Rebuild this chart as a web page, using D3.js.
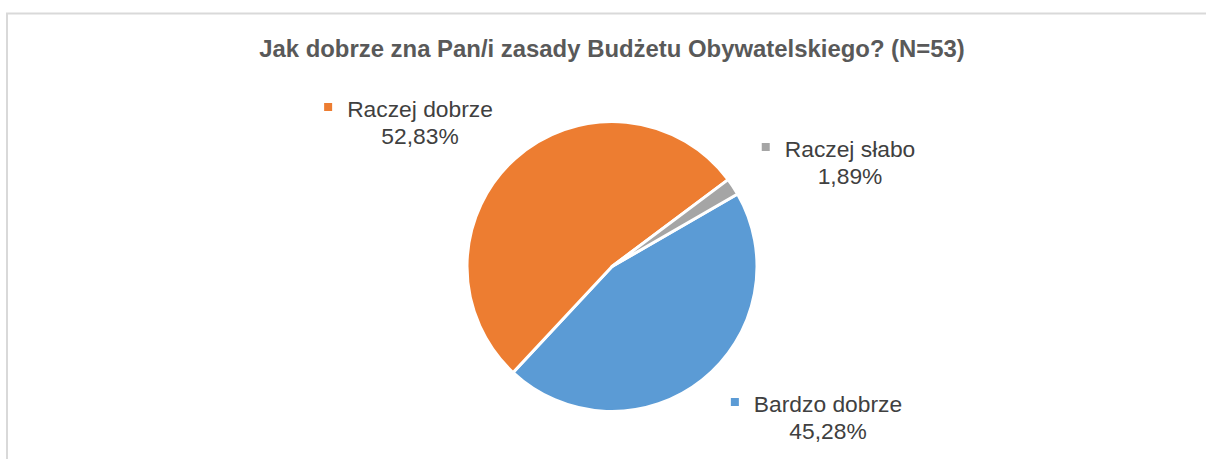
<!DOCTYPE html>
<html>
<head>
<meta charset="utf-8">
<script src="https://cdn.jsdelivr.net/npm/d3@7"></script>
<style>
  body { margin: 0; background: #fff; }
  text { font-family: "Liberation Sans", Arial, sans-serif; }
</style>
</head>
<body>
<svg class="chart"></svg>
<script>
// Data
var title = 'Jak dobrze zna Pan/i zasady Budżetu Obywatelskiego? (N=53)';
var categories = ['Bardzo dobrze', 'Raczej dobrze', 'Raczej słabo'];
var values = [45.28, 52.83, 1.89];
var colors = ['#5B9BD5', '#ED7D31', '#A5A5A5'];

// Global setup
var width = 1206;
var height = 459;
var cx = 612;
var cy = 266.5;
var radius = 145;
var firstSliceAngle = 60 * Math.PI / 180;

// label anchors (text centre, first baseline) relative to pie centre
var labelOffsets = [
  {dx: 216, dy: 145},
  {dx: -192, dy: -150},
  {dx: 238, dy: -110}
];

var svg = d3.select('.chart')
  .attr('width', width)
  .attr('height', height);

// chart frame (runs off the right and bottom edge)
svg.append('rect')
  .attr('x', 7)
  .attr('y', 13.5)
  .attr('width', 1220)
  .attr('height', 480)
  .attr('fill', '#fff')
  .attr('stroke', '#d9d9d9')
  .attr('stroke-width', 2);

svg.append('text')
  .attr('x', cx)
  .attr('y', 57)
  .attr('text-anchor', 'middle')
  .attr('font-size', 23.9)
  .attr('font-weight', 'bold')
  .attr('fill', '#595959')
  .text(title);

var pie = d3.pie()
  .sort(null)
  .startAngle(firstSliceAngle)
  .endAngle(firstSliceAngle + 2 * Math.PI)
  .value(function (d) { return d; });

var arc = d3.arc()
  .innerRadius(0)
  .outerRadius(radius);

var arcs = pie(values);

var g = svg.append('g')
  .attr('transform', 'translate(' + cx + ',' + cy + ')');

g.selectAll('path')
  .data(arcs)
  .enter()
  .append('path')
  .attr('d', arc)
  .attr('fill', function (d, i) { return colors[i]; })
  .attr('stroke', '#fff')
  .attr('stroke-width', 3)
  .attr('stroke-linejoin', 'round');

// Labels
var fmt = function (v) { return v.toFixed(2).replace('.', ',') + '%'; };
var fontSize = 22.8;

var labels = g.selectAll('.lbl')
  .data(arcs)
  .enter()
  .append('g')
  .attr('class', 'lbl')
  .attr('transform', function (d, i) {
    return 'translate(' + labelOffsets[i].dx + ',' + labelOffsets[i].dy + ')';
  });

labels.append('text')
  .attr('class', 'name')
  .attr('text-anchor', 'middle')
  .attr('font-size', fontSize)
  .attr('fill', '#404040')
  .text(function (d, i) { return categories[i]; });

labels.append('text')
  .attr('text-anchor', 'middle')
  .attr('y', 27.5)
  .attr('font-size', fontSize)
  .attr('fill', '#404040')
  .text(function (d) { return fmt(d.data); });

labels.each(function (d, i) {
  var el = d3.select(this);
  var w = el.select('.name').node().getComputedTextLength();
  el.append('rect')
    .attr('x', -w / 2 - 23)
    .attr('y', -13.5)
    .attr('width', 8)
    .attr('height', 8)
    .attr('fill', colors[i]);
});
</script>
</body>
</html>
